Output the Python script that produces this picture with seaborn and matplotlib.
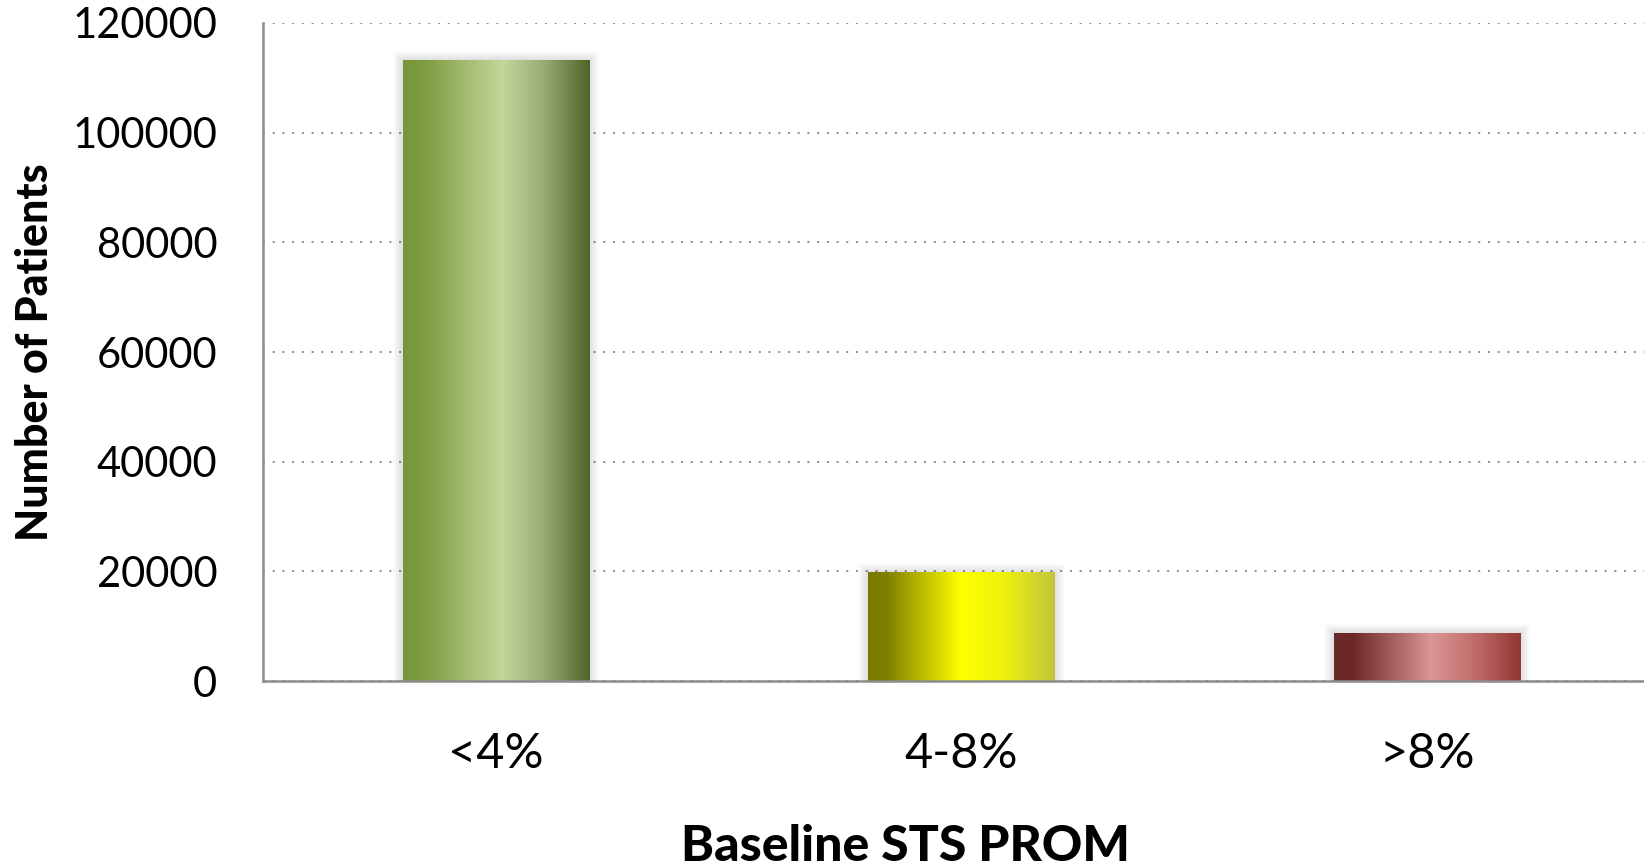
import numpy as np
import pandas as pd
import matplotlib
matplotlib.use("Agg")
import matplotlib.pyplot as plt
from matplotlib.colors import LinearSegmentedColormap
import seaborn as sns

# Patient counts by baseline STS predicted risk of mortality
categories = ["<4%", "4-8%", ">8%"]
patients = [113200, 19800, 8800]
y_ticks = [0, 20000, 40000, 60000, 80000, 100000, 120000]

# Horizontal metallic gradient for each bar (position, colour)
gradients = [
    [(0.0, "#76963a"), (0.12, "#7f9d41"), (0.53, "#c3d69b"), (0.75, "#9aae73"), (1.0, "#4f6428")],
    [(0.0, "#7a7a00"), (0.1, "#7f7f00"), (0.5, "#ffff00"), (0.72, "#eef20e"), (1.0, "#c4c43c")],
    [(0.0, "#6a2a2a"), (0.1, "#6c2727"), (0.52, "#da9694"), (0.75, "#c06e6c"), (1.0, "#943634")],
]

sns.set_theme(style="white")
plt.rcParams["font.family"] = ["Lato", "DejaVu Sans"]
plt.rcParams["text.color"] = "black"
plt.rcParams["axes.labelcolor"] = "black"

fig = plt.figure(figsize=(16.44, 8.67), dpi=100)
ax = fig.add_axes([0.16, 0.2145, 0.8497, 0.759])

df = pd.DataFrame({"category": categories, "patients": patients})
sns.barplot(data=df, x="category", y="patients", ax=ax, width=0.4,
            color="#cccccc", edgecolor="none", zorder=3)

ax.set_xlim(-0.5, 2.5)
ax.set_ylim(0, 120000)

for patch, stops in zip(list(ax.patches), gradients):
    x0 = patch.get_x()
    w = patch.get_width()
    h = patch.get_height()
    # soft drop shadow around the bar
    for k in range(1, 7):
        pad_x = 0.0035 * k
        pad_y = 260 * k
        sh = plt.Rectangle((x0 - pad_x, -pad_y), w + 2 * pad_x, h + 2 * pad_y,
                           facecolor="black", edgecolor="none", alpha=0.018, zorder=2)
        ax.add_patch(sh)
    cmap = LinearSegmentedColormap.from_list("bar", stops)
    grad = np.linspace(0, 1, 256).reshape(1, -1)
    im = ax.imshow(grad, cmap=cmap, aspect="auto", extent=(x0, x0 + w, 0, h),
                   zorder=4, interpolation="bilinear")
    im.set_clip_path(patch)

ax.set_xlim(-0.5, 2.5)
ax.set_ylim(0, 120000)

ax.set_yticks(y_ticks)
ax.set_yticklabels([str(v) for v in y_ticks])
ax.yaxis.grid(True, linestyle=(0, (1, 4)), color="#8c8c8c", linewidth=1.4)
ax.xaxis.grid(False)
ax.set_axisbelow(True)

for side in ["top", "right"]:
    ax.spines[side].set_visible(False)
for side in ["left", "bottom"]:
    ax.spines[side].set_color("#8c8c8c")
    ax.spines[side].set_linewidth(1.8)
    ax.spines[side].set_zorder(5)

ax.tick_params(axis="y", labelsize=30, pad=33, length=0, colors="black")
ax.tick_params(axis="x", labelsize=35, pad=37, length=0, colors="black")

ax.set_xlabel("Baseline STS PROM", fontsize=36, fontweight="black", color="black")
ax.set_ylabel("Number of Patients", fontsize=31, fontweight="black", color="black")
ax.xaxis.set_label_coords(0.46, -0.218)
ax.yaxis.set_label_coords(-0.149, 0.5)

fig.savefig("out.png", dpi=100)
